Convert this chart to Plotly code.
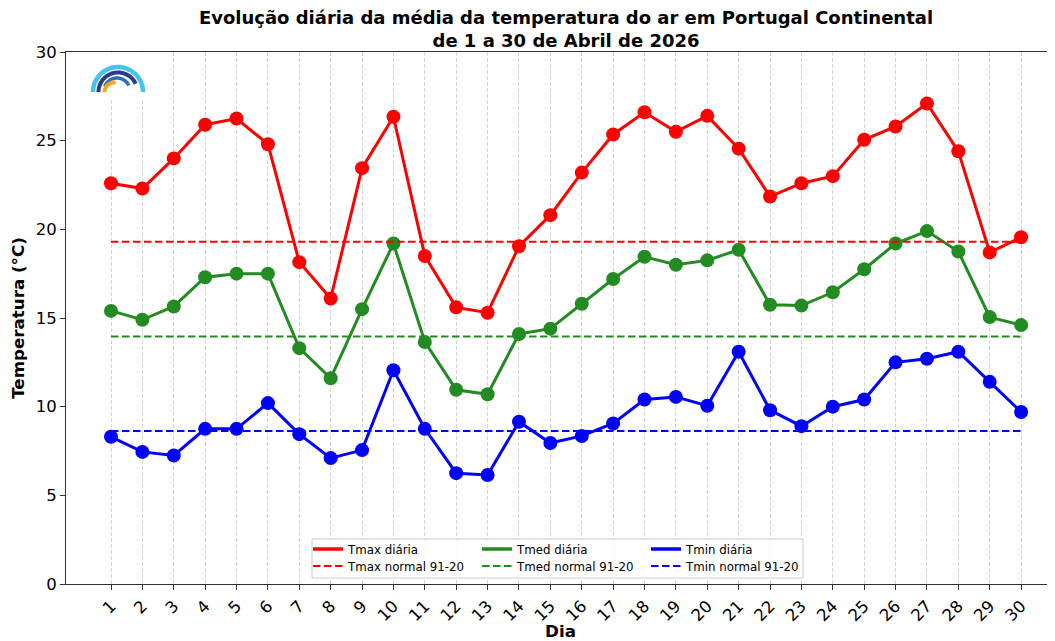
import numpy as np
import plotly.graph_objects as go

# ---------------- data ----------------
dias = list(range(1, 31))
dia_labels = [str(d) for d in dias]
tmax = [22.6, 22.3, 24.0, 25.9, 26.25, 24.8, 18.15, 16.1, 23.45, 26.35,
        18.5, 15.6, 15.3, 19.05, 20.8, 23.2, 25.35, 26.6, 25.5, 26.4,
        24.55, 21.85, 22.6, 23.0, 25.05, 25.8, 27.1, 24.4, 18.7, 19.55]
tmed = [15.4, 14.9, 15.65, 17.3, 17.5, 17.5, 13.3, 11.6, 15.5, 19.2,
        13.65, 10.95, 10.7, 14.1, 14.4, 15.8, 17.2, 18.45, 18.0, 18.25,
        18.85, 15.75, 15.7, 16.45, 17.75, 19.2, 19.9, 18.75, 15.05, 14.6]
tmin = [8.3, 7.45, 7.25, 8.75, 8.75, 10.2, 8.45, 7.1, 7.55, 12.05,
        8.75, 6.25, 6.15, 9.15, 7.95, 8.35, 9.05, 10.4, 10.55, 10.05,
        13.1, 9.8, 8.9, 10.0, 10.4, 12.5, 12.7, 13.1, 11.4, 9.7]
normal_tmax = 19.3
normal_tmed = 13.95
normal_tmin = 8.63
y_ticks = [0, 5, 10, 15, 20, 25, 30]

FONT = "DejaVu Sans"
OFF = 8  # page body margin offset
W, H = 1055 - OFF, 641 - OFF
ML, MR, MT, MB = 66 - OFF, 0, 52 - OFF, H - (584 - OFF)
PW, PH = W - ML - MR, H - MT - MB

fig = go.Figure()

series = [
    ("Tmax diária", tmax, "#ff0000"),
    ("Tmed diária", tmed, "#228b22"),
    ("Tmin diária", tmin, "#0000ff"),
]
for name, vals, col in series:
    fig.add_trace(go.Scatter(
        x=dias, y=vals, mode="lines+markers", name=name,
        line=dict(color=col, width=3),
        marker=dict(color=col, size=14),
        showlegend=False,
    ))

normals = [
    ("Tmax normal 91-20", normal_tmax, "#ff0000"),
    ("Tmed normal 91-20", normal_tmed, "#228b22"),
    ("Tmin normal 91-20", normal_tmin, "#0000ff"),
]
for name, v, col in normals:
    fig.add_trace(go.Scatter(
        x=[dias[0], dias[-1]], y=[v, v], mode="lines", name=name,
        line=dict(color=col, width=2, dash="7.5px,3.5px"),
        legend="legend2",
    ))

# legend-only handles for daily series (line without markers, as in the reference)
for name, vals, col in series:
    fig.add_trace(go.Scatter(
        x=[None], y=[None], mode="lines", name=name,
        line=dict(color=col, width=3.5),
        legend="legend",
    ))


def px2paper(px, py):
    """reference-picture pixel -> paper coordinates"""
    fx, fy = px - OFF, py - OFF
    return (fx - ML) / PW, (H - MB - fy) / PH


def arc_path(cx, cy, r, a0, a1, n=40):
    pts = []
    for a in np.linspace(np.radians(a0), np.radians(a1), n):
        x, y = px2paper(cx + r * np.cos(a), cy - r * np.sin(a))
        pts.append(f"{x:.5f},{y:.5f}")
    return "M " + " L ".join(pts)


shapes = []
# white background behind logo
x0, y0 = px2paper(84, 100)
x1, y1 = px2paper(152, 53)
shapes.append(dict(type="rect", xref="paper", yref="paper", x0=x0, y0=y0, x1=x1, y1=y1,
                   fillcolor="white", line=dict(width=0), layer="above"))
# logo arcs
shapes.append(dict(type="path", xref="paper", yref="paper", path=arc_path(118, 92, 25, 0, 180),
                   line=dict(color="#45c3f0", width=4.5), layer="above"))
shapes.append(dict(type="path", xref="paper", yref="paper", path=arc_path(118, 92, 19.5, 25, 180),
                   line=dict(color="#2b3a8c", width=4), layer="above"))
shapes.append(dict(type="path", xref="paper", yref="paper", path=arc_path(117, 91, 13, 25, 160),
                   line=dict(color="#2f6db5", width=3.5), layer="above"))
shapes.append(dict(type="path", xref="paper", yref="paper", path=arc_path(114, 92, 9.5, 80, 180),
                   line=dict(color="#f5a623", width=4), layer="above"))

# legend frame
lx0, ly0 = px2paper(312, 578)
lx1, ly1 = px2paper(803, 539)
shapes.append(dict(type="rect", xref="paper", yref="paper", x0=lx0, y0=ly0, x1=lx1, y1=ly1,
                   fillcolor="rgba(255,255,255,0.85)", line=dict(color="#cccccc", width=1),
                   layer="above"))

leg_x, leg_y1 = px2paper(308, 549)
_, leg_y2 = px2paper(308, 566)

fig.update_layout(
    width=W, height=H,
    margin=dict(l=ML, r=MR, t=MT, b=MB, autoexpand=False),
    plot_bgcolor="white", paper_bgcolor="white",
    font=dict(family=FONT, color="black"),
    title=dict(
        text="Evolução diária da média da temperatura do ar em Portugal Continental<br>de 1 a 30 de Abril de 2026",
        font=dict(family=FONT, size=18, weight="bold", color="black"),
        x=(566 - OFF) / W, xref="container", xanchor="center",
        y=1 - 16 / H, yref="container", yanchor="top",
    ),
    xaxis=dict(
        range=[-0.434, 31.08],
        tickvals=dias, ticktext=dia_labels, tickangle=-45,
        tickfont=dict(size=16.5, family=FONT),
        ticks="outside", ticklen=5, tickcolor="#333",
        showline=True, linecolor="#333", linewidth=1, mirror=True,
        showgrid=True, gridcolor="#d6d6d6", gridwidth=1, griddash="4px,2px",
        zeroline=False,
        title=dict(text="Dia", font=dict(size=16.7, weight="bold", family=FONT), standoff=9),
    ),
    yaxis=dict(
        range=[0, 30], tickvals=y_ticks,
        tickfont=dict(size=16.5, family=FONT),
        ticks="outside", ticklen=5, tickcolor="#333",
        showline=True, linecolor="#333", linewidth=1,
        showgrid=False, zeroline=False,
        title=dict(text="Temperatura (°C)", font=dict(size=16.7, weight="bold", family=FONT), standoff=8),
    ),
    legend=dict(
        orientation="h", x=leg_x, y=leg_y1,
        xanchor="left", yanchor="middle",
        bgcolor="rgba(0,0,0,0)", borderwidth=0,
        font=dict(size=11.8, family=FONT),
        entrywidth=124, entrywidthmode="pixels", itemwidth=30,
    ),
    legend2=dict(
        orientation="h", x=leg_x, y=leg_y2,
        xanchor="left", yanchor="middle",
        bgcolor="rgba(0,0,0,0)", borderwidth=0,
        font=dict(size=11.8, family=FONT),
        entrywidth=124, entrywidthmode="pixels", itemwidth=30,
    ),
    shapes=shapes,
    showlegend=True,
)

fig.write_html("out.html")
